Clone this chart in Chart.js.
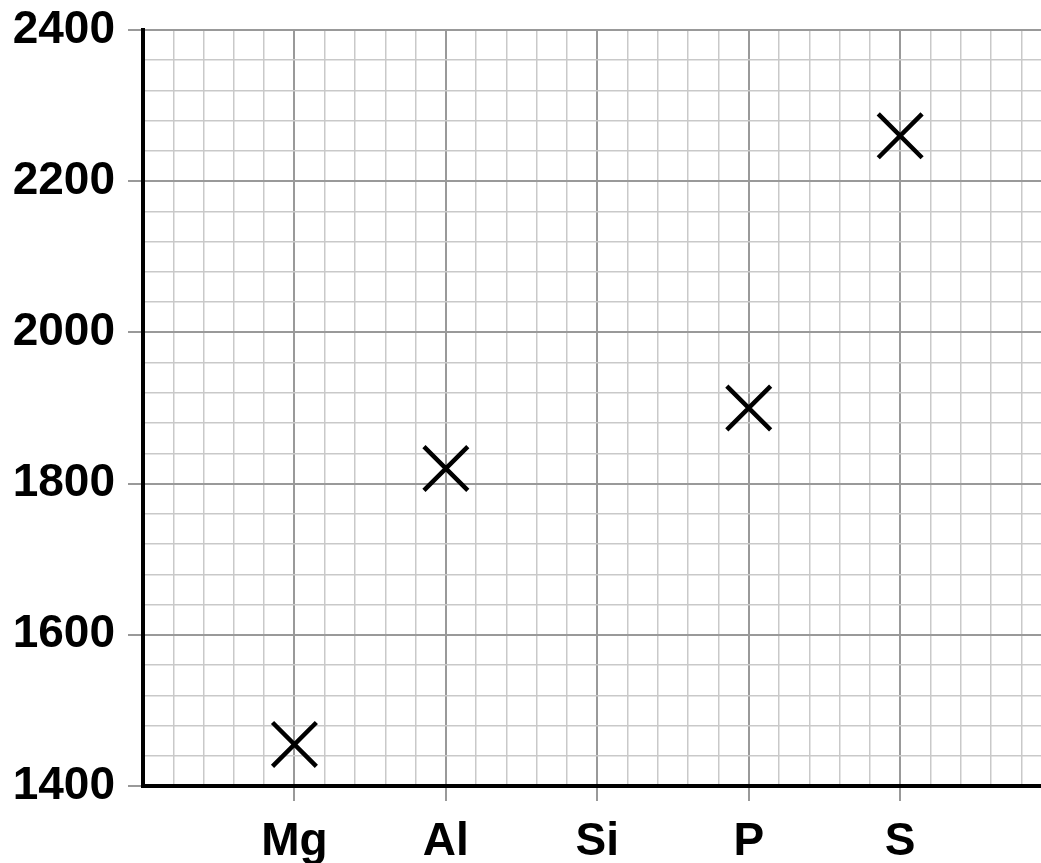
<!DOCTYPE html>
<html>
<head>
<meta charset="utf-8">
<script src="https://cdn.jsdelivr.net/npm/chart.js@4/dist/chart.umd.min.js"></script>
<style>
  html, body { margin: 0; padding: 0; background: #fff; }
  canvas { display: block; }
</style>
</head>
<body>
<canvas id="chart" width="1041" height="863"></canvas>
<script>
// elements along the x axis, Si has no point
const elements = ["Mg", "Al", "Si", "P", "S"];
const energies = [1455, 1820, null, 1900, 2260];
const yTicks = [1400, 1600, 1800, 2000, 2200, 2400];

const MAJOR = "#999999";
const MINOR = "#c9c9c9";

let points = [];
elements.forEach((el, i) => {
  if (energies[i] !== null) points.push({ x: i, y: energies[i] });
});

function isCategory(v) {
  let r = Math.round(v);
  return Math.abs(v - r) < 1e-6 && r >= 0 && r < elements.length;
}
function isMajorY(v) {
  return yTicks.indexOf(Math.round(v)) !== -1;
}

// no extra room for overflowing labels, layout padding decides
function noPad(scale) {
  scale.paddingTop = 0;
  scale.paddingBottom = 0;
  scale.paddingLeft = 0;
  scale.paddingRight = 0;
}

let font = { family: "'Liberation Sans', Arial, sans-serif", size: 46, weight: "bold" };

let ctx = document.getElementById("chart").getContext("2d");
let myChart = new Chart(ctx, {
  type: "scatter",
  data: {
    datasets: [
      {
        data: points,
        pointStyle: "crossRot",
        pointRadius: 31,
        pointHoverRadius: 31,
        borderColor: "#000",
        backgroundColor: "#000",
        pointBorderWidth: 4.5,
        showLine: false,
        clip: false,
      },
    ],
  },
  options: {
    responsive: false,
    animation: false,
    layout: { autoPadding: false, padding: { top: 30, right: 0, left: 0, bottom: 0 } },
    plugins: { legend: { display: false }, tooltip: { enabled: false } },
    scales: {
      x: {
        type: "linear",
        min: -1,
        max: 4.93,
        afterFit: (scale) => { scale.height = 77; noPad(scale); },
        border: { color: "#000", width: 4 },
        grid: {
          color: (c) => (isCategory(c.tick.value) ? MAJOR : MINOR),
          lineWidth: (c) => (isCategory(c.tick.value) ? 2 : 1.5),
          tickColor: (c) => (isCategory(c.tick.value) ? MAJOR : "rgba(0,0,0,0)"),
          tickLength: 15,
        },
        ticks: {
          stepSize: 0.2,
          includeBounds: false,
          autoSkip: false,
          maxRotation: 0,
          padding: 14,
          color: "#000",
          font: font,
          callback: (v) => (isCategory(v) ? elements[Math.round(v)] : ""),
        },
      },
      y: {
        min: 1400,
        max: 2400,
        afterFit: (scale) => { scale.width = 143; noPad(scale); },
        border: { color: "#000", width: 4 },
        grid: {
          color: (c) => (isMajorY(c.tick.value) ? MAJOR : MINOR),
          lineWidth: (c) => (isMajorY(c.tick.value) ? 2 : 1.5),
          tickColor: (c) => (isMajorY(c.tick.value) ? MAJOR : "rgba(0,0,0,0)"),
          tickLength: 15,
        },
        ticks: {
          stepSize: 40,
          autoSkip: false,
          padding: 13,
          color: "#000",
          font: font,
          callback: (v) => (isMajorY(v) ? v : ""),
        },
      },
    },
  },
});
</script>
</body>
</html>
